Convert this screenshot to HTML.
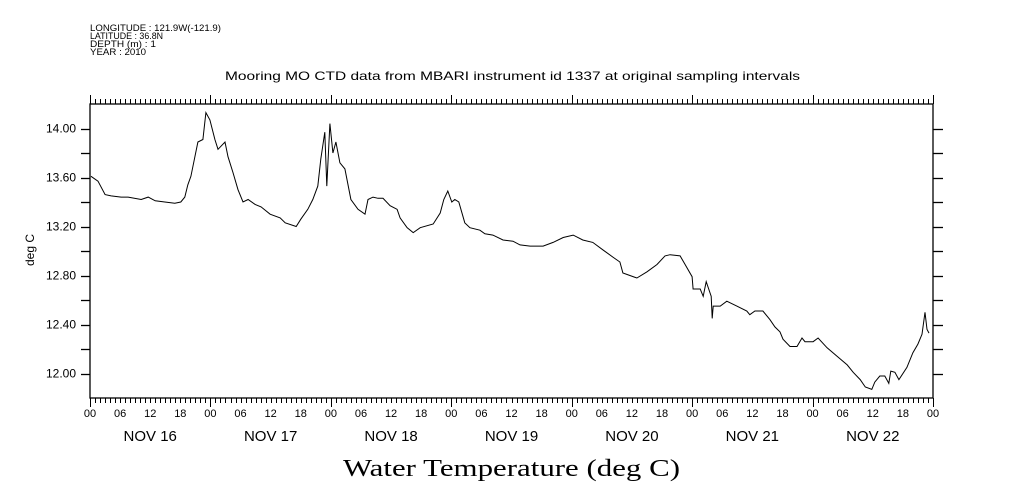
<!DOCTYPE html>
<html><head><meta charset="utf-8"><style>
body{margin:0;background:#fff;}
svg{display:block;font-family:"Liberation Sans",sans-serif;}
</style></head><body>
<svg id="chart" width="1009" height="504">
<g font-size="9" fill="#000">
<text x="90" y="31" textLength="131" lengthAdjust="spacingAndGlyphs">LONGITUDE : 121.9W(-121.9)</text>
<text x="90" y="39" textLength="73" lengthAdjust="spacingAndGlyphs">LATITUDE : 36.8N</text>
<text x="90" y="47" textLength="66" lengthAdjust="spacingAndGlyphs">DEPTH (m) : 1</text>
<text x="90" y="55" textLength="56" lengthAdjust="spacingAndGlyphs">YEAR : 2010</text>
</g>
<text x="225" y="80" font-size="12" textLength="575" lengthAdjust="spacingAndGlyphs">Mooring MO CTD data from MBARI instrument id 1337 at original sampling intervals</text>
<text x="0" y="0" font-size="12" text-anchor="middle" transform="translate(34,250) rotate(-90)">deg C</text>
<text x="343" y="476" font-size="24" textLength="337" lengthAdjust="spacingAndGlyphs" font-family="Liberation Serif, serif">Water Temperature (deg C)</text>
<g id="axes"></g>
<path id="line" fill="none" stroke="#000" stroke-width="1"/>
</svg>
<script>
const hours=[0.2,1.6,3.0,4.2,6.2,7.6,10.2,11.6,13.0,14.9,16.9,18.1,18.9,19.5,20.1,20.9,21.5,22.5,23.1,23.9,24.9,25.5,26.9,27.5,28.5,29.5,30.5,31.5,32.9,34.1,35.9,37.9,38.9,41.1,42.0,43.4,44.4,45.4,46.0,46.8,47.2,47.8,48.4,49.0,49.8,50.8,52.0,53.4,54.8,55.4,56.4,57.4,58.4,59.8,61.2,61.8,63.2,64.4,65.8,68.4,69.8,70.5,71.3,72.1,72.7,73.5,74.7,75.7,77.7,78.7,80.3,82.3,84.3,85.7,87.7,90.3,92.3,94.3,96.3,98.2,100.2,102.2,104.2,105.6,106.2,107.6,109.0,111.0,113.0,114.6,115.6,117.6,118.6,120.0,120.2,121.6,122.2,122.8,123.8,124.0,124.2,125.6,126.9,128.9,130.9,131.5,132.5,134.1,135.5,136.5,137.5,138.1,139.5,140.9,141.9,142.5,144.1,145.1,146.9,148.9,150.9,152.1,153.5,154.5,155.8,156.4,157.4,158.4,159.2,159.6,160.4,161.2,162.8,164.0,165.0,165.8,166.4,166.8,167.2];
const temps=[13.61,13.57,13.46,13.45,13.44,13.44,13.42,13.44,13.41,13.40,13.39,13.40,13.44,13.54,13.61,13.77,13.89,13.91,14.13,14.07,13.91,13.83,13.89,13.77,13.64,13.50,13.40,13.42,13.38,13.36,13.30,13.27,13.23,13.20,13.26,13.34,13.42,13.53,13.75,13.97,13.53,14.04,13.80,13.89,13.72,13.67,13.42,13.34,13.30,13.42,13.44,13.43,13.43,13.37,13.34,13.27,13.19,13.15,13.19,13.22,13.31,13.42,13.49,13.40,13.42,13.40,13.23,13.19,13.17,13.14,13.13,13.09,13.08,13.05,13.04,13.04,13.07,13.11,13.13,13.09,13.07,13.01,12.95,12.91,12.82,12.80,12.78,12.83,12.89,12.96,12.97,12.96,12.89,12.79,12.69,12.69,12.63,12.75,12.63,12.45,12.55,12.55,12.59,12.55,12.51,12.48,12.51,12.51,12.44,12.38,12.34,12.28,12.22,12.22,12.29,12.26,12.26,12.29,12.21,12.14,12.07,12.01,11.95,11.89,11.87,11.93,11.98,11.98,11.92,12.02,12.01,11.95,12.05,12.17,12.24,12.32,12.50,12.36,12.33];
const yTicks=["12.00","12.40","12.80","13.20","13.60","14.00"];
const dayLabels=["NOV 16","NOV 17","NOV 18","NOV 19","NOV 20","NOV 21","NOV 22"];
const hourLabels=["00","06","12","18"];
const X0=90,X1=933,Y0=104,Y1=398,HMAX=168,VMIN=11.8,VMAX=14.2;
const xs=h=>X0+(h/HMAX)*(X1-X0);
const ys=v=>Y1-(v-VMIN)/(VMAX-VMIN)*(Y1-Y0);
const NS="http://www.w3.org/2000/svg";
const ax=document.getElementById('axes');
function mk(t,a,txt){const e=document.createElementNS(NS,t);for(const k in a)e.setAttribute(k,a[k]);if(txt!==undefined)e.textContent=txt;ax.appendChild(e);return e;}
let frame=mk('rect',{x:X0,y:Y0,width:X1-X0,height:Y1-Y0,fill:'none',stroke:'#000','stroke-width':1.3});


for(let v=11.8;v<=14.2001;v+=0.2){const y=Math.round(ys(v))+0.5;
 if(v<11.85||v>14.15)continue;
 let t=mk('line',{x1:X0-9,x2:X0,y1:y,y2:y,stroke:'#000','stroke-width':1.3});
 
 
 let r=mk('line',{x1:X1,x2:X1+10,y1:y,y2:y,stroke:'#000','stroke-width':1.3});
 
 }
yTicks.forEach(s=>{const v=parseFloat(s);
 let t=mk('text',{x:X0-14,y:ys(v)+4,'font-size':12,'text-anchor':'end'},s);
 
 });
for(let h=0;h<=HMAX;h++){const x=Math.round(xs(h))+0.5;const maj=h%24===0;
 let t=mk('line',{x1:x,x2:x,y1:Y0-(maj?9:5),y2:Y0,stroke:'#000','stroke-width':1});
 
 
 let b=mk('line',{x1:x,x2:x,y1:Y1,y2:Y1+(maj?9:5),stroke:'#000','stroke-width':1});
 
 
 if(h%6===0){let l=mk('text',{x:xs(h),y:417,'font-size':11,'text-anchor':'middle'},hourLabels[(h/6)%4]);
  
  }}
dayLabels.forEach((d,i)=>{let l=mk('text',{x:xs(i*24+12),y:441,'font-size':15,'text-anchor':'middle'},d);
 
 });
document.getElementById('line').setAttribute('d',hours.map((h,i)=>(i?'L':'M')+xs(h).toFixed(1)+','+ys(temps[i]).toFixed(1)).join(''));
</script>
</body></html>
